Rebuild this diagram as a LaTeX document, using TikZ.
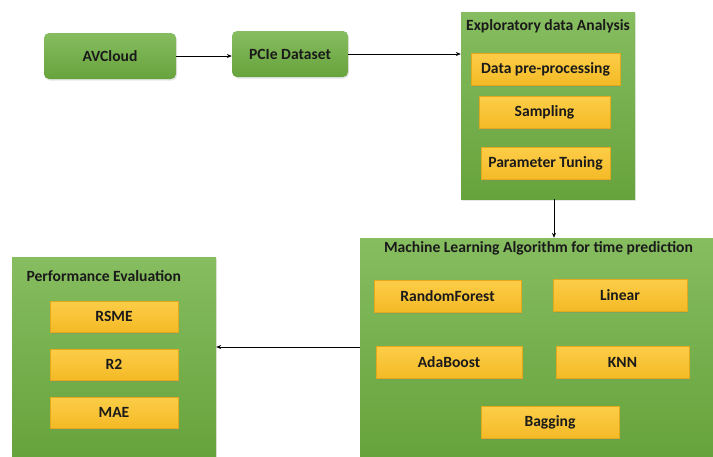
\documentclass[tikz,border=0pt]{standalone}
\usepackage{fontspec}
\setmainfont{Carlito}
\usetikzlibrary{arrows.meta,shadows}
\definecolor{greentop}{HTML}{86BD60}
\definecolor{greenbot}{HTML}{67A33C}
\definecolor{yellowtop}{HTML}{FCCD48}
\definecolor{yellowbot}{HTML}{F4BA26}
\definecolor{yellowline}{HTML}{E3A81C}
\definecolor{inktext}{HTML}{1A1A1A}

\begin{document}
\begin{tikzpicture}[x=1pt,y=-1pt,
  every node/.style={text=inktext, font=\bfseries\fontsize{15.6}{18}\selectfont},
  greenbox/.style={top color=greentop, bottom color=greenbot, inner sep=0pt,
    drop shadow={opacity=0.2, shadow xshift=1pt, shadow yshift=-1.5pt}},
  stagebox/.style={greenbox, rounded corners=5pt, minimum height=46pt},
  itembox/.style={top color=yellowtop, bottom color=yellowbot, draw=yellowline,
    line width=0.3pt, inner sep=0pt,
    drop shadow={opacity=0.25, shadow xshift=1pt, shadow yshift=-1.5pt}},
  flow/.style={draw, line width=0.6pt, -{Stealth[length=5pt,width=4pt]}}]
  \useasboundingbox (0,0) rectangle (713,456);

  % top row
  \node[stagebox, minimum width=132pt] (avcloud) at (110,56) {AVCloud};
  \node[stagebox, minimum width=116pt] (pcie) at (290,54) {PCIe Dataset};

  % exploratory data analysis
  \node[greenbox, minimum width=174pt, minimum height=187pt] (eda) at (548,105.5) {};
  \node (edatitle) at (548,26) {Exploratory data Analysis};
  \foreach \nm/\px/\py/\bw/\txt in {prep/545.5/69/149/Data pre-processing,
      sampling/544.5/112.5/131/Sampling, tuning/545.5/163.5/129/Parameter Tuning}
  {
    \node[itembox, minimum width=\bw pt, minimum height=32pt] (\nm) at (\px,\py) {\txt};
  }

  % machine learning algorithms
  \node[greenbox, minimum width=353pt, minimum height=218pt] (ml) at (536.5,347) {};
  \node (mltitle) at (538.5,248) {Machine Learning Algorithm for time prediction};
  \foreach \nm/\px/\py/\bw/\txt in {rf/447.5/296/147/RandomForest, linear/620/295/134/Linear,
      ada/449/362/146/AdaBoost, knn/622.5/362/133/KNN, bagging/550/422.5/138/Bagging}
  {
    \node[itembox, minimum width=\bw pt, minimum height=32pt] (\nm) at (\px,\py) {\txt};
  }

  % performance evaluation
  \node[greenbox, minimum width=204pt, minimum height=199pt] (pe) at (114,356.5) {};
  \node[anchor=west] (petitle) at (23,276) {Performance Evaluation};
  \foreach \nm/\py/\txt in {rsme/316.5/RSME, rtwo/364.5/R2, mae/412.5/MAE}
  {
    \node[itembox, minimum width=128pt, minimum height=31pt] (\nm) at (114,\py) {\txt};
  }

  % connectors
  \path[flow] (avcloud.east) -- (avcloud.east -| pcie.west);
  \path[flow] (pcie.east) -- (pcie.east -| eda.west);
  \path[flow] ([xshift=6pt]eda.south) -- ([xshift=6pt]eda.south |- ml.north);
  \path[flow] (ml.west) -- (ml.west -| pe.east);
\end{tikzpicture}
\end{document}
